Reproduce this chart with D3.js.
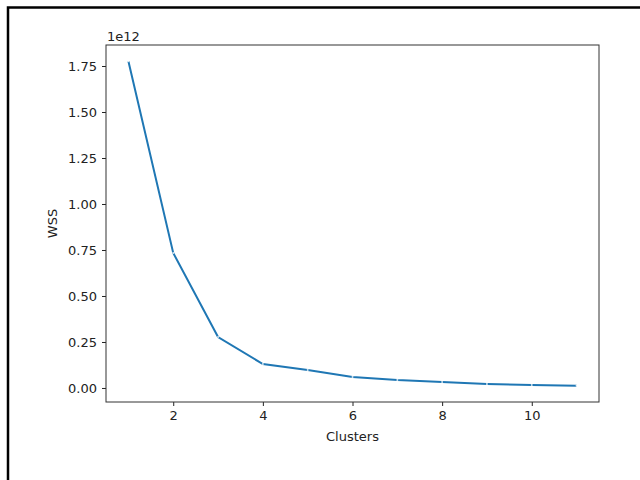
<!DOCTYPE html>
<html lang="en">
<head>
    <meta charset="UTF-8">
    <script src="https://d3js.org/d3.v7.min.js"></script>
    <title>Elbow chart</title>
    <style>
        body {
            margin: 0;
            background-color: #ffffff;
        }
        text {
            font-family: "DejaVu Sans", sans-serif;
            fill: #222;
        }
    </style>
</head>
<body>
    <div id="chart"></div>
    <script>
        // values (WSS in units of 1e12)
        const clusters = [1, 2, 3, 4, 5, 6, 7, 8, 9, 10, 11];
        const wss = [1.776, 0.734, 0.277, 0.130, 0.098, 0.060, 0.043, 0.033, 0.022, 0.016, 0.012];
        const xTicks = [2, 4, 6, 8, 10];
        const yTicks = [0, 0.25, 0.5, 0.75, 1.0, 1.25, 1.5, 1.75];

        const width = 640;
        const height = 480;
        const margin = {top: 45, right: 41, bottom: 78, left: 106};

        const svg = d3.select("#chart").append("svg")
            .attr("width", width)
            .attr("height", height);

        // outer frame around the figure
        svg.append("path")
            .attr("d", "M8,480 L8,7.5 L640,7.5")
            .attr("fill", "none")
            .attr("stroke", "#000")
            .attr("stroke-width", 2.5);

        const span = d3.max(wss) - d3.min(wss);
        const x = d3.scaleLinear()
            .domain([0.5, 11.5])
            .range([margin.left, width - margin.right]);
        const y = d3.scaleLinear()
            .domain([d3.min(wss) - 0.05 * span, d3.max(wss) + 0.05 * span])
            .range([height - margin.bottom, margin.top]);

        const xAxis = svg.append("g")
            .attr("transform", `translate(0,${height - margin.bottom})`)
            .call(d3.axisBottom(x).tickValues(xTicks).tickSize(4).tickPadding(5).tickFormat(d3.format("d")));
        const yAxis = svg.append("g")
            .attr("transform", `translate(${margin.left},0)`)
            .call(d3.axisLeft(y).tickValues(yTicks).tickSize(4).tickPadding(5).tickFormat(d3.format(".2f")));

        [xAxis, yAxis].forEach(g => {
            g.select(".domain").remove();
            g.selectAll("text").style("font-size", "13px").attr("fill", "#222");
            g.selectAll("line").attr("stroke", "#222");
        });

        // axes box
        svg.append("rect")
            .attr("x", margin.left)
            .attr("y", margin.top)
            .attr("width", width - margin.left - margin.right)
            .attr("height", height - margin.top - margin.bottom)
            .attr("fill", "none")
            .attr("stroke", "#333")
            .attr("stroke-width", 1);

        const line = d3.line()
            .x((d, i) => x(clusters[i]))
            .y(d => y(d));

        svg.append("path")
            .datum(wss)
            .attr("d", line)
            .attr("fill", "none")
            .attr("stroke", "#1f77b4")
            .attr("stroke-width", 2);

        // tiny white point markers
        svg.selectAll(".pt")
            .data(wss)
            .enter()
            .append("circle")
            .attr("class", "pt")
            .attr("cx", (d, i) => x(clusters[i]))
            .attr("cy", d => y(d))
            .attr("r", 1)
            .attr("fill", "#ffffff")
            .attr("opacity", 0.8);

        svg.append("text")
            .attr("x", margin.left + 1)
            .attr("y", margin.top - 4)
            .style("font-size", "13px")
            .text("1e12");

        svg.append("text")
            .attr("x", (margin.left + width - margin.right) / 2)
            .attr("y", 441)
            .attr("text-anchor", "middle")
            .style("font-size", "13px")
            .text("Clusters");

        svg.append("text")
            .attr("transform", `translate(57,${(margin.top + height - margin.bottom) / 2}) rotate(-90)`)
            .attr("text-anchor", "middle")
            .style("font-size", "13px")
            .text("WSS");
    </script>
</body>
</html>
